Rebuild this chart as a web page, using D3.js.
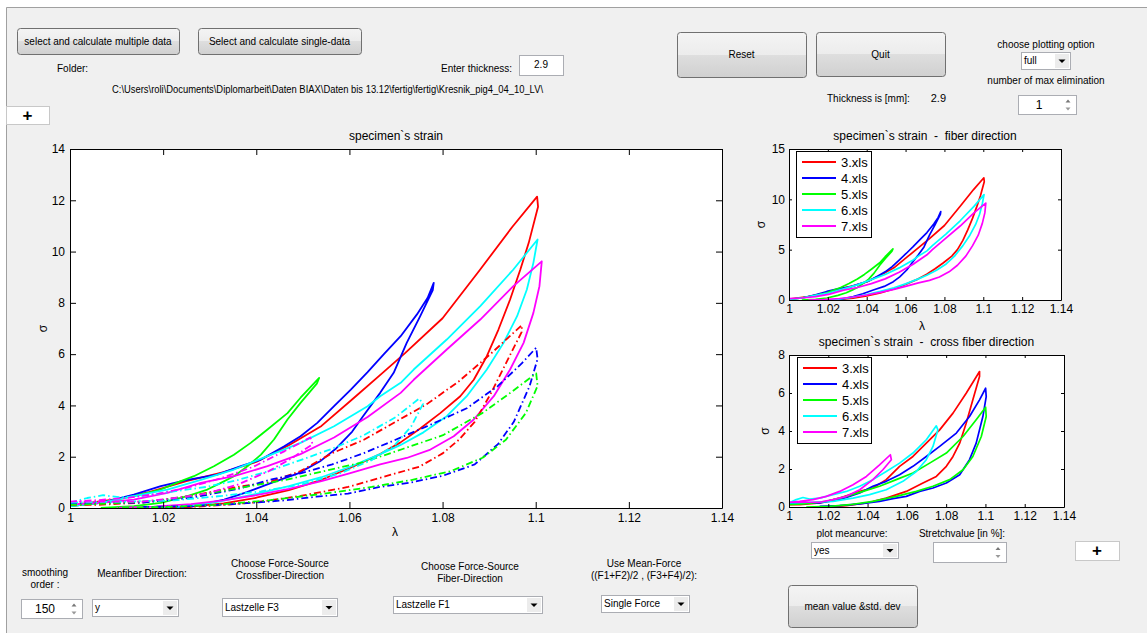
<!DOCTYPE html>
<html>
<head>
<meta charset="utf-8">
<script src="https://cdn.jsdelivr.net/npm/d3@7"></script>
<style>
  body { margin: 0; background: #fff; }
  svg text { font-family: "Liberation Sans", Arial, sans-serif; fill: #000; white-space: pre; }
</style>
</head>
<body>
<svg id="fig" width="1147" height="633"></svg>
<script>
// ---------- data (lambda, sigma) ----------
var lambdaTicks = [1, 1.02, 1.04, 1.06, 1.08, 1.1, 1.12, 1.14];
var mainSigmaTicks = [0, 2, 4, 6, 8, 10, 12, 14];
var fiberSigmaTicks = [0, 5, 10, 15];
var crossSigmaTicks = [0, 2, 4, 6, 8];
var files = ["3.xls", "4.xls", "5.xls", "6.xls", "7.xls"];
var colors = ["#ff0000", "#0000ff", "#00ff00", "#00ffff", "#ff00ff"];

// fiber direction loops (solid)
var fiber3 = [[1.000,0.10],[1.010,0.35],[1.017,0.62],[1.025,1.05],[1.033,1.40],[1.040,1.80],[1.047,2.45],[1.054,3.20],[1.061,4.30],[1.067,5.25],[1.072,6.05],[1.080,7.40],[1.088,9.28],[1.095,10.97],[1.1003,12.14],
  [1.1005,11.75],[1.0985,10.34],[1.0967,9.30],[1.0945,8.13],[1.0920,6.96],[1.0895,5.92],[1.0867,5.00],[1.0838,4.36],[1.0795,3.70],[1.0752,3.10],[1.0709,2.55],[1.0666,2.10],[1.060,1.55],[1.054,1.10],[1.047,0.70],[1.040,0.40],[1.033,0.18],[1.026,0.05],[1.020,0.00]];
var fiber4 = [[1.000,0.07],[1.0066,0.20],[1.0137,0.52],[1.0195,0.85],[1.0252,1.10],[1.0316,1.30],[1.0367,1.63],[1.041,1.89],[1.046,2.41],[1.0495,2.80],[1.0531,3.32],[1.0567,3.97],[1.0603,4.62],[1.0639,5.30],[1.0674,6.00],[1.071,6.70],[1.0745,7.55],[1.0768,8.20],[1.0781,8.78],
  [1.0779,8.50],[1.0752,7.48],[1.0723,6.44],[1.0695,5.27],[1.0666,4.49],[1.063,3.60],[1.0606,2.98],[1.057,2.30],[1.0537,1.82],[1.049,1.35],[1.0434,0.99],[1.038,0.62],[1.0331,0.33],[1.026,0.05],[1.020,0.00]];
var fiber5 = [[1.000,0.07],[1.0066,0.20],[1.0137,0.46],[1.0195,0.72],[1.0238,1.05],[1.0266,1.24],[1.0309,1.63],[1.0352,2.08],[1.0388,2.54],[1.0424,3.06],[1.0467,3.70],[1.0495,4.30],[1.0535,5.07],
  [1.053,4.85],[1.0495,4.10],[1.0467,3.45],[1.0438,2.67],[1.041,2.08],[1.0381,1.63],[1.0352,1.24],[1.0324,0.98],[1.0295,0.72],[1.0252,0.46],[1.0195,0.20],[1.0137,0.07],[1.0066,0.00]];
var fiber6 = [[1.000,0.07],[1.0066,0.20],[1.0137,0.46],[1.0209,0.72],[1.0281,1.10],[1.0352,1.50],[1.0424,2.02],[1.0495,2.54],[1.0567,3.19],[1.0639,3.97],[1.0666,4.36],[1.071,4.88],[1.0738,5.40],[1.0809,6.57],[1.0881,7.87],[1.0952,9.30],[1.1004,10.47],
  [1.0995,9.56],[1.0981,8.52],[1.096,7.48],[1.0931,6.44],[1.0895,5.40],[1.0852,4.36],[1.0809,3.58],[1.0759,2.95],[1.0709,2.45],[1.0666,2.10],[1.060,1.60],[1.054,1.20],[1.047,0.85],[1.040,0.55],[1.032,0.25],[1.024,0.05],[1.018,0.00]];
var fiber7 = [[1.000,0.13],[1.0066,0.20],[1.0137,0.33],[1.0209,0.59],[1.0281,0.98],[1.0352,1.24],[1.0424,1.63],[1.0495,2.10],[1.0567,2.75],[1.0639,3.55],[1.071,4.49],[1.0738,5.00],[1.0809,6.18],[1.0881,7.35],[1.0952,8.65],[1.1013,9.62],
  [1.1008,8.65],[1.0995,7.61],[1.0974,6.44],[1.0945,5.40],[1.091,4.36],[1.0867,3.45],[1.0824,2.80],[1.0774,2.28],[1.0723,1.95],[1.0666,1.70],[1.060,1.35],[1.054,1.05],[1.047,0.75],[1.040,0.50],[1.033,0.30],[1.026,0.15],[1.018,0.05],[1.010,0.00]];

// cross fiber direction loops (dash-dot in the big plot)
var cross3 = [[1.000,0.12],[1.0054,0.12],[1.0156,0.21],[1.0258,0.47],[1.036,0.82],[1.0427,1.00],[1.0495,1.44],[1.0563,2.14],[1.0631,2.66],[1.0699,3.36],[1.0767,4.06],[1.0835,4.94],[1.0902,5.99],[1.097,7.13],
  [1.097,6.87],[1.0936,5.64],[1.0902,4.41],[1.0869,3.36],[1.0835,2.66],[1.0801,2.14],[1.075,1.61],[1.0682,1.26],[1.0597,0.82],[1.0495,0.47],[1.0394,0.21],[1.0292,0.07],[1.019,0.00]];
var cross4 = [[1.000,0.18],[1.0156,0.21],[1.0258,0.39],[1.036,0.74],[1.0427,1.09],[1.0495,1.35],[1.0563,1.70],[1.0631,2.14],[1.0699,2.66],[1.0767,3.19],[1.0852,3.89],[1.0919,4.76],[1.097,5.64],[1.1001,6.25],
  [1.1004,5.81],[1.0987,4.76],[1.0953,3.36],[1.0919,2.49],[1.0869,1.70],[1.0801,1.26],[1.0733,1.00],[1.0665,0.82],[1.0597,0.56],[1.0529,0.44],[1.0461,0.30],[1.036,0.16],[1.0258,0.07],[1.0156,0.04]];
var cross5 = [[1.000,0.12],[1.0088,0.18],[1.019,0.30],[1.0292,0.56],[1.0377,0.82],[1.0461,1.09],[1.0546,1.44],[1.0631,1.79],[1.0716,2.31],[1.0801,2.84],[1.0886,3.71],[1.0953,4.59],[1.1001,5.25],
  [1.1004,4.76],[1.0979,3.71],[1.0936,2.66],[1.0886,1.96],[1.0818,1.44],[1.0733,1.09],[1.0648,0.82],[1.0546,0.56],[1.0427,0.30],[1.0309,0.12],[1.0207,0.04],[1.0088,0.00]];
var cross6 = [[1.000,0.21],[1.0037,0.39],[1.0071,0.50],[1.0105,0.42],[1.0156,0.47],[1.0224,0.65],[1.0292,0.82],[1.036,1.09],[1.0427,1.44],[1.0495,1.87],[1.0563,2.31],[1.0631,2.84],[1.0699,3.54],[1.075,4.27],
  [1.0758,4.06],[1.0733,3.19],[1.0699,2.49],[1.0648,1.87],[1.058,1.35],[1.0495,0.91],[1.041,0.65],[1.0326,0.47],[1.0224,0.30],[1.0122,0.25],[1.000,0.21]];
var cross7 = [[1.000,0.25],[1.0054,0.30],[1.0122,0.39],[1.019,0.56],[1.0258,0.82],[1.0326,1.17],[1.0394,1.61],[1.0461,2.22],[1.0516,2.75],
  [1.0521,2.49],[1.0478,1.96],[1.0427,1.44],[1.036,0.91],[1.0292,0.56],[1.0224,0.39],[1.0156,0.25],[1.0071,0.25],[1.000,0.25]];

var fiberLoops = [fiber3, fiber4, fiber5, fiber6, fiber7];
var crossLoops = [cross3, cross4, cross5, cross6, cross7];

// ---------- figure window ----------
var svg = d3.select("#fig");
var defs = svg.append("defs");
var grad = defs.append("linearGradient").attr("id", "btn").attr("x1", 0).attr("y1", 0).attr("x2", 0).attr("y2", 1);
[["0%", "#f4f4f4"], ["50%", "#ececec"], ["50%", "#dedede"], ["100%", "#d0d0d0"]].forEach(function(s) {
  grad.append("stop").attr("offset", s[0]).attr("stop-color", s[1]);
});

svg.append("rect").attr("width", 1147).attr("height", 633).attr("fill", "#fff");
svg.append("rect").attr("x", 6).attr("y", 7).attr("width", 1141).attr("height", 626).attr("fill", "#f0f0f0");
svg.append("path").attr("d", "M6.5,633V7.5H1147").attr("fill", "none").attr("stroke", "#a0a0a0");

function txt(x, y, s, anchor, size, weight) {
  return svg.append("text").attr("x", x).attr("y", y).attr("text-anchor", anchor || "start")
    .attr("dominant-baseline", "central").attr("font-size", size || 10)
    .attr("font-weight", weight || null).text(s);
}

function button(x, y, w, h, label) {
  svg.append("rect").attr("x", x + 0.5).attr("y", y + 0.5).attr("width", w).attr("height", h)
    .attr("rx", 3).attr("fill", "url(#btn)").attr("stroke", "#707070");
  txt(x + w / 2, y + h / 2, label, "middle");
}

function editBox(x, y, w, h) {
  svg.append("rect").attr("x", x + 0.5).attr("y", y + 0.5).attr("width", w).attr("height", h)
    .attr("fill", "#fff").attr("stroke", "#abadb3");
}

function popup(x, y, w, h, label) {
  editBox(x, y, w, h);
  svg.append("rect").attr("x", x + w - 15).attr("y", y + 2).attr("width", 14).attr("height", h - 3).attr("fill", "#ececec");
  var cx = x + w - 8, cy = y + h / 2 + 1;
  svg.append("path").attr("d", "M" + (cx - 3.5) + "," + (cy - 2) + "h7l-3.5,3.5z").attr("fill", "#000");
  txt(x + 3, y + h / 2, label, "start");
}

function spin(x, y, w, h, label, tx) {
  editBox(x, y, w, h);
  var ax = x + w - 8;
  svg.append("path").attr("d", "M" + (ax - 2.5) + "," + (y + h / 2 - 2) + "l2.5,-3l2.5,3z").attr("fill", "#777");
  svg.append("path").attr("d", "M" + (ax - 2.5) + "," + (y + h / 2 + 3) + "l2.5,3l2.5,-3z").attr("fill", "#999");
  if (label) txt(tx, y + h / 2, label, "middle", 12);
}

function plusBox(x, y, w, h) {
  svg.append("rect").attr("x", x + 0.5).attr("y", y + 0.5).attr("width", w).attr("height", h)
    .attr("fill", "#fff").attr("stroke", "#c8c8c8");
  txt(x + w / 2, y + h / 2, "+", "middle", 17, "bold");
}

// ---------- top controls ----------
button(17, 28, 162, 26, "select and calculate multiple data");
button(198, 28, 163, 26, "Select and calculate single-data");
txt(57, 68, "Folder:");
txt(441, 68, "Enter thickness:");
editBox(519, 55, 44, 20);
txt(541, 64, "2.9", "middle");
svg.append("text").attr("x", 112).attr("y", 89).attr("dominant-baseline", "central").attr("font-size", 10)
  .attr("textLength", 431).attr("lengthAdjust", "spacingAndGlyphs")
  .text("C:\\Users\\roli\\Documents\\Diplomarbeit\\Daten BIAX\\Daten bis 13.12\\fertig\\fertig\\Kresnik_pig4_04_10_LV\\");
plusBox(6, 106, 43, 18);

button(677, 32, 129, 45, "Reset");
button(816, 32, 129, 44, "Quit");
txt(1046, 44, "choose plotting option", "middle");
popup(1021, 52, 49, 17, "full");
txt(1046, 80, "number of max elimination", "middle");
spin(1018, 95, 58, 19, "1", 1039);
txt(827, 98, "Thickness is [mm]:");
txt(946, 98, "2.9", "end", 11);

// ---------- plots ----------
var dashDot = "7,3,1.5,3";
var fmt = function(d) { return String(+d.toFixed(2)); };

function panel(p) {
  var x = d3.scaleLinear().domain([1, 1.14]).range([p.left, p.right]);
  var y = d3.scaleLinear().domain(p.yDomain).range([p.bottom, p.top]);
  var g = svg.append("g");
  g.append("rect").attr("x", p.left).attr("y", p.top).attr("width", p.right - p.left)
    .attr("height", p.bottom - p.top).attr("fill", "#fff");

  defs.append("clipPath").attr("id", "clip" + p.id).append("rect")
    .attr("x", p.left).attr("y", p.top - 1).attr("width", p.right - p.left).attr("height", p.bottom - p.top + 1);

  var line = d3.line().x(function(d) { return x(d[0]); }).y(function(d) { return y(d[1]); });
  var lg = g.append("g").attr("clip-path", "url(#clip" + p.id + ")");
  p.series.forEach(function(s) {
    lg.append("path").attr("d", line(s.data)).attr("fill", "none").attr("stroke", s.color)
      .attr("stroke-width", p.lw).attr("stroke-linejoin", "round")
      .attr("stroke-dasharray", s.dash ? dashDot : null);
  });

  function style(sel) {
    sel.attr("font-size", p.fs).attr("font-family", "Liberation Sans, Arial, sans-serif");
    sel.selectAll("line, path").attr("stroke", "#000");
    sel.selectAll("text").attr("fill", "#000");
  }
  g.append("g").attr("transform", "translate(0," + p.bottom + ")")
    .call(d3.axisBottom(x).tickValues(lambdaTicks).tickFormat(fmt).tickSize(-p.tick).tickSizeOuter(0).tickPadding(p.pad))
    .call(style);
  g.append("g").attr("transform", "translate(0," + p.top + ")")
    .call(d3.axisTop(x).tickValues(lambdaTicks).tickFormat("").tickSize(-p.tick).tickSizeOuter(0))
    .call(style);
  g.append("g").attr("transform", "translate(" + p.left + ",0)")
    .call(d3.axisLeft(y).tickValues(p.yTicks).tickFormat(fmt).tickSize(-p.tick).tickSizeOuter(0).tickPadding(p.pad))
    .call(style);
  g.append("g").attr("transform", "translate(" + p.right + ",0)")
    .call(d3.axisRight(y).tickValues(p.yTicks).tickFormat("").tickSize(-p.tick).tickSizeOuter(0))
    .call(style);

  txt((p.left + p.right) / 2, p.titleY, p.title, "middle", 12);
  if (p.xlabY) txt(p.xlabX, p.xlabY, "λ", "middle", 12);
  svg.append("text").attr("transform", "translate(" + p.ylabX + "," + (p.top + p.bottom) / 2 + ") rotate(-90)")
    .attr("text-anchor", "middle").attr("dominant-baseline", "central").attr("font-size", 12).text("σ");

  if (p.legend) {
    var L = p.legend;
    g.append("rect").attr("x", L.x + 0.5).attr("y", L.y + 0.5).attr("width", L.w).attr("height", L.h)
      .attr("fill", "#fff").attr("stroke", "#000");
    files.forEach(function(f, i) {
      var yy = L.y + 11 + i * 16;
      g.append("line").attr("x1", L.x + 6).attr("x2", L.x + 40).attr("y1", yy).attr("y2", yy)
        .attr("stroke", colors[i]).attr("stroke-width", 2);
      g.append("text").attr("x", L.x + 45).attr("y", yy).attr("dominant-baseline", "central")
        .attr("font-size", 13).text(f);
    });
  }
}

var mainSeries = [];
fiberLoops.forEach(function(d, i) { mainSeries.push({ data: d, color: colors[i], dash: false }); });
crossLoops.forEach(function(d, i) { mainSeries.push({ data: d, color: colors[i], dash: true }); });

panel({ id: "main", left: 70, right: 722, top: 149, bottom: 508, yDomain: [0, 14], yTicks: mainSigmaTicks,
  tick: 6, pad: 5, fs: 12, lw: 1.8, series: mainSeries,
  title: "specimen`s strain", titleY: 136, xlabX: 395, xlabY: 532, ylabX: 43 });

panel({ id: "fib", left: 789, right: 1061, top: 149, bottom: 300, yDomain: [0, 15], yTicks: fiberSigmaTicks,
  tick: 3, pad: 4, fs: 12, lw: 1.7,
  series: fiberLoops.map(function(d, i) { return { data: d, color: colors[i], dash: false }; }),
  title: "specimen`s strain  -  fiber direction", titleY: 136, xlabX: 922, xlabY: 326, ylabX: 761,
  legend: { x: 796, y: 151, w: 75, h: 86 } });

panel({ id: "cross", left: 789, right: 1064, top: 355, bottom: 507, yDomain: [0, 8], yTicks: crossSigmaTicks,
  tick: 3, pad: 4, fs: 12, lw: 1.7,
  series: crossLoops.map(function(d, i) { return { data: d, color: colors[i], dash: false }; }),
  title: "specimen`s strain  -  cross fiber direction", titleY: 342, ylabX: 765,
  legend: { x: 797, y: 357, w: 74, h: 86 } });

// ---------- bottom controls ----------
txt(45, 572, "smoothing", "middle");
txt(45, 584, "order :", "middle");
spin(21, 599, 61, 19, "150", 45);
txt(142, 573, "Meanfiber Direction:", "middle");
popup(92, 599, 86, 17, "y");
txt(280, 563, "Choose Force-Source", "middle");
txt(280, 575, "Crossfiber-Direction", "middle");
popup(222, 598, 115, 18, "Lastzelle F3");
txt(470, 566, "Choose Force-Source", "middle");
txt(470, 578, "Fiber-Direction", "middle");
popup(393, 596, 149, 17, "Lastzelle F1");
txt(644, 563, "Use Mean-Force", "middle");
txt(644, 575, "((F1+F2)/2 , (F3+F4)/2):", "middle");
popup(601, 595, 88, 17, "Single Force");
txt(852, 533, "plot meancurve:", "middle");
popup(811, 542, 87, 16, "yes");
txt(962, 533, "Stretchvalue [in %]:", "middle");
spin(933, 542, 73, 20, "", 0);
plusBox(1075, 541, 44, 19);
button(788, 585, 129, 42, "mean value &std. dev");
</script>
</body>
</html>
